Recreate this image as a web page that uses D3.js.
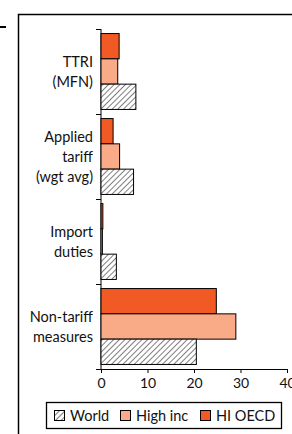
<!DOCTYPE html>
<html><head><meta charset="utf-8">
<script src="https://cdn.jsdelivr.net/npm/d3@7"></script>
<style>body{margin:0;background:#fff}svg{display:block}text{font-family:Lato,"Open Sans",sans-serif;fill:#111}</style>
</head><body><svg id="c" width="292" height="434"></svg>
<script>
const categories = ["TTRI\n(MFN)", "Applied\ntariff\n(wgt avg)", "Import\nduties", "Non-tariff\nmeasures"];
const seriesNames = ["HI OECD", "High inc", "World"];
const hiOecd = [3.9, 2.6, 0.4, 24.8];
const highInc = [3.6, 4.0, 0.3, 29.0];
const world = [7.5, 7.0, 3.3, 20.5];
const xTicks = [0, 10, 20, 30, 40];
const legendOrder = ["World", "High inc", "HI OECD"];

const colors = {"HI OECD": "#f15a24", "High inc": "#f9ab88", "World": "url(#hatch)"};
const values = {"HI OECD": hiOecd, "High inc": highInc, "World": world};

const svg = d3.select("#c");
const defs = svg.append("defs");
const pat = defs.append("pattern").attr("id", "hatch").attr("patternUnits", "userSpaceOnUse")
  .attr("width", 4).attr("height", 4).attr("patternTransform", "rotate(45)");
pat.append("rect").attr("width", 4).attr("height", 4).attr("fill", "#fff");
pat.append("line").attr("x1", 0).attr("y1", 0).attr("x2", 0).attr("y2", 4).attr("stroke", "#000").attr("stroke-width", 1);

// frame
svg.append("path").attr("d", "M18.5,440 V14.5 H300").attr("fill", "none").attr("stroke", "#000").attr("stroke-width", 1.5);
svg.append("line").attr("x1", 0).attr("x2", 6).attr("y1", 27).attr("y2", 27).attr("stroke", "#000").attr("stroke-width", 2);

const x = d3.scaleLinear().domain([0, 40]).range([101, 287]);
const y = d3.scaleBand().domain(categories).range([29, 369]);
const yi = d3.scaleBand().domain(seriesNames).range([0, y.bandwidth()]).paddingOuter(0.18).paddingInner(0);

// y axis
const ya = svg.append("g").attr("transform", "translate(101,0)")
  .call(d3.axisLeft(y).tickValues([]).tickSizeOuter(0));
ya.select(".domain").attr("d", `M0,${29}V${369}`).attr("stroke", "#000");
const bounds = categories.map(c => y(c)).concat([y.range()[1]]);
svg.append("g").selectAll("line").data(bounds).join("line")
  .attr("x1", 96).attr("x2", 101).attr("y1", d => d + 0.5).attr("y2", d => d + 0.5).attr("stroke", "#000");

// category labels
categories.forEach(c => {
  const lines = c.split("\n");
  const cy = y(c) + y.bandwidth() / 2;
  const lh = 20;
  const t = svg.append("text").attr("text-anchor", "end").attr("font-size", 14.5);
  lines.forEach((l, i) => {
    t.append("tspan").attr("x", 93).attr("y", cy + (i - (lines.length - 1) / 2) * lh + 5).text(l);
  });
});

// bars
seriesNames.forEach(s => {
  svg.append("g").selectAll("rect").data(categories).join("rect")
    .attr("x", x(0))
    .attr("y", (c) => y(c) + yi(s))
    .attr("width", (c, i) => x(values[s][i]) - x(0))
    .attr("height", yi.bandwidth())
    .attr("fill", colors[s]).attr("stroke", "#000").attr("stroke-width", 1);
});

// x axis
const xa = svg.append("g").attr("transform", "translate(0,369)")
  .call(d3.axisBottom(x).tickValues(xTicks).tickSize(4).tickSizeOuter(0).tickFormat(d3.format("d")));
xa.select(".domain").attr("d", "M96,0.5H287").attr("stroke", "#000");
xa.selectAll("text").attr("font-size", 14).attr("font-family", "Lato,'Open Sans',sans-serif").attr("fill", "#111").attr("dy", "0.85em");

// legend
const lg = svg.append("g");
lg.append("rect").attr("x", 46.5).attr("y", 402.5).attr("width", 235).attr("height", 26).attr("fill", "#fff").attr("stroke", "#000").attr("stroke-width", 1.3);
const lx = {"World": 54, "High inc": 120, "HI OECD": 200};
legendOrder.forEach(s => {
  lg.append("rect").attr("x", lx[s] + 0.5).attr("y", 410.5).attr("width", 10).attr("height", 10)
    .attr("fill", colors[s]).attr("stroke", "#000").attr("stroke-width", 1);
  lg.append("text").attr("x", lx[s] + 16).attr("y", 421).attr("font-size", 14.5).text(s);
});
</script></body></html>
